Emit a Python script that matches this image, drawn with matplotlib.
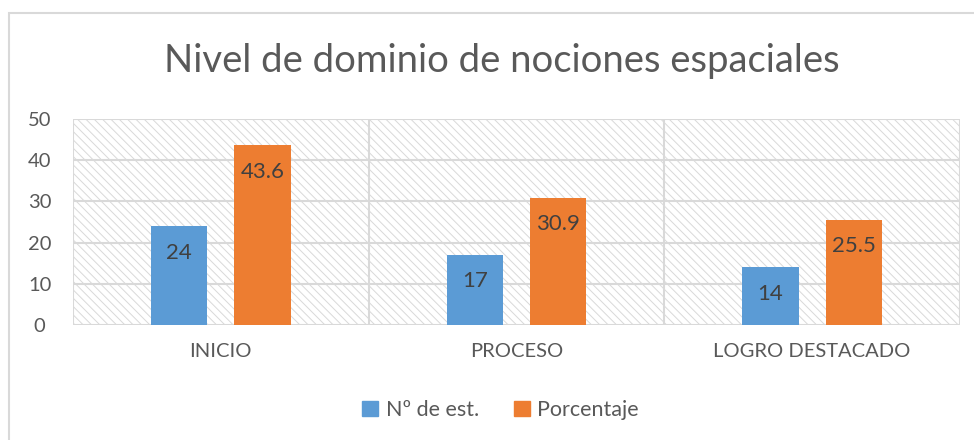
import matplotlib
matplotlib.use("Agg")
import matplotlib.pyplot as plt
from matplotlib.patches import Rectangle, Patch
import numpy as np

categories = ["INICIO", "PROCESO", "LOGRO DESTACADO"]
n_est = [24, 17, 14]
porcentaje = [43.6, 30.9, 25.5]
series_names = ["Nº de est.", "Porcentaje"]
yticks = [0, 10, 20, 30, 40, 50]

BLUE = "#5B9BD5"
ORANGE = "#ED7D31"
GRID = "#D9D9D9"
TXT = "#595959"

plt.rcParams["font.family"] = ["Lato", "DejaVu Sans"]
plt.rcParams["hatch.color"] = "#D9D9D9"
plt.rcParams["hatch.linewidth"] = 0.7

fig = plt.figure(figsize=(9.74, 4.40), dpi=100)
ax = fig.add_axes([0.075, 0.2614, 0.9106, 0.4681])

# outer chart frame
fig.add_artist(Rectangle((9 / 974, -0.05), 1.2, 1 - 13 / 440 + 0.05,
                         transform=fig.transFigure, fill=False,
                         edgecolor=GRID, lw=1.5, zorder=0))

# hatched plot background
ax.add_patch(Rectangle((0, 0), 1, 1, transform=ax.transAxes, facecolor="white",
                       edgecolor="#D9D9D9", hatch="\\\\\\\\", lw=0, zorder=0))

x = np.arange(len(categories))
w = 0.19
off = 0.141
b1 = ax.bar(x - off, n_est, w, color=BLUE, zorder=3)
b2 = ax.bar(x + off, porcentaje, w, color=ORANGE, zorder=3)

for bars, vals in ((b1, n_est), (b2, porcentaje)):
    for r, v in zip(bars, vals):
        ax.annotate(f"{v:g}", (r.get_x() + r.get_width() / 2, v),
                    xytext=(0, -19), textcoords="offset points",
                    ha="center", va="center", fontsize=16, color="#404040", zorder=4)

ax.set_xlim(-0.5, len(categories) - 0.5)
ax.set_ylim(0, 50)
ax.set_yticks(yticks)
ax.set_xticks(x)
ax.set_xticklabels(categories)
for yv in yticks[1:]:
    ax.axhline(yv, color=GRID, lw=1.5, zorder=1)
for xv in np.arange(-0.5, len(categories), 1.0):
    ax.axvline(xv, color=GRID, lw=1.5, zorder=1)

for s in ax.spines.values():
    s.set_visible(False)
ax.axhline(0, color=GRID, lw=1.5, zorder=2)
ax.tick_params(axis="both", length=0, labelsize=14.5, colors=TXT)
ax.tick_params(axis="x", pad=13)
ax.tick_params(axis="y", pad=24)
for lab in ax.get_yticklabels():
    lab.set_horizontalalignment("center")

fig.text(0.515, 1 - 61 / 440, "Nivel de dominio de nociones espaciales",
         ha="center", va="center", fontsize=27.5, color=TXT)

handles = [Patch(color=BLUE), Patch(color=ORANGE)]
fig.legend(handles, series_names, loc="center", bbox_to_anchor=(0.514, 0.068),
           ncol=2, frameon=False, fontsize=15.5, labelcolor=TXT,
           handlelength=0.75, handleheight=0.75, handletextpad=0.35, columnspacing=1.6)

fig.savefig("out.png", dpi=100)
